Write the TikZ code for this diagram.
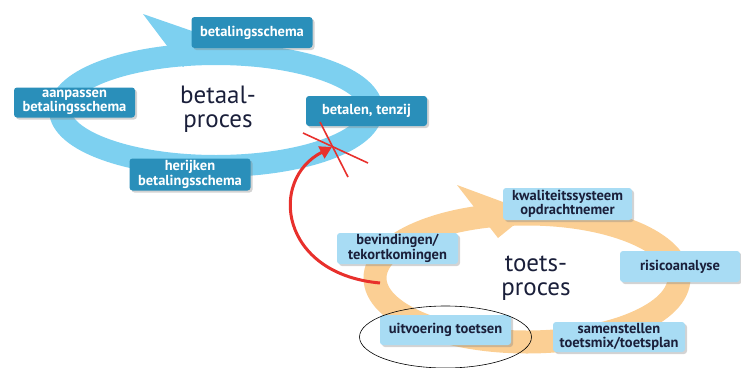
\documentclass[tikz,border=0pt]{standalone}
\usepackage{fontspec}
\setmainfont{PT Sans}
\usepackage{tikz}
\usetikzlibrary{arrows.meta,shadows}
\definecolor{ringblue}{HTML}{7DD0F0}
\definecolor{ringorange}{HTML}{FBCF94}
\definecolor{boxdark}{HTML}{2A8FBA}
\definecolor{boxlight}{HTML}{A8DCF4}
\definecolor{textdark}{HTML}{1A1F3A}
\definecolor{redline}{HTML}{E8302C}

\begin{document}
\begin{tikzpicture}[x=1pt,y=-1pt,
  darkbox/.style={fill=boxdark, text=white, rounded corners=3pt, align=center,
    font=\bfseries\fontsize{14.5}{14.5}\selectfont, minimum width=121pt, minimum height=30pt,
    inner sep=1pt, drop shadow={opacity=0.35, shadow xshift=2pt, shadow yshift=-2pt}},
  lightbox/.style={darkbox, fill=boxlight, text=textdark},
  proces/.style={font=\fontsize{25}{24.5}\selectfont, text=textdark, align=center}]
\useasboundingbox (0,0) rectangle (741,367);

% betaalproces
\draw[ringblue, line width=22pt] (216,110) ellipse (156pt and 56pt);
\fill[ringblue] (143,14) -- (218,40) -- (183,67) -- cycle;
\node[proces] (betaal) at (218,109) {betaal-\\proces};
\node[darkbox, minimum height=31pt] (schema) at (252,32.5) {betalingsschema};
\node[darkbox] (aanpassen) at (74.5,102.5) {aanpassen\\betalingsschema};
\node[darkbox] (betalen) at (366.5,111) {betalen, tenzij};
\node[darkbox, minimum height=32pt] (herijken) at (190,174.5) {herijken\\betalingsschema};

% toetsproces
\draw[ringorange, line width=23pt] (527,278) ellipse (152pt and 64pt);
\fill[ringorange] (457,185) -- (530,212) -- (498,238) -- cycle;
\node[proces] (toets) at (536,278) {toets-\\proces};
\node[lightbox, minimum width=129pt, minimum height=32pt] (kwaliteit) at (567.5,204) {kwaliteitssysteem\\opdrachtnemer};
\node[lightbox, minimum height=31pt] (bevindingen) at (397.5,248.5) {bevindingen/\\tekortkomingen};
\node[lightbox, minimum width=120pt, minimum height=31pt] (risico) at (680,266.5) {risicoanalyse};
\node[lightbox, minimum width=131pt] (uitvoering) at (445.5,330) {uitvoering toetsen};
\node[lightbox, minimum width=132pt] (samenstellen) at (619,337) {samenstellen\\toetsmix/toetsplan};
\draw[black, line width=0.6pt] (uitvoering.center) ++(0,7) ellipse (86pt and 31pt);

% terugkoppeling
\coordinate (start) at (380,283);
\coordinate (cross) at (332,147);
\draw[redline, line width=3pt, -{Triangle[length=12pt,width=13pt]}]
  (start) .. controls (280,274) and (268,180) .. (cross);
\draw[redline, line width=1.6pt] (cross) ++(-29,-14) -- ++(65,30);
\draw[redline, line width=1.6pt] (cross) ++(-12,-25) -- ++(28,55);
\end{tikzpicture}
\end{document}
